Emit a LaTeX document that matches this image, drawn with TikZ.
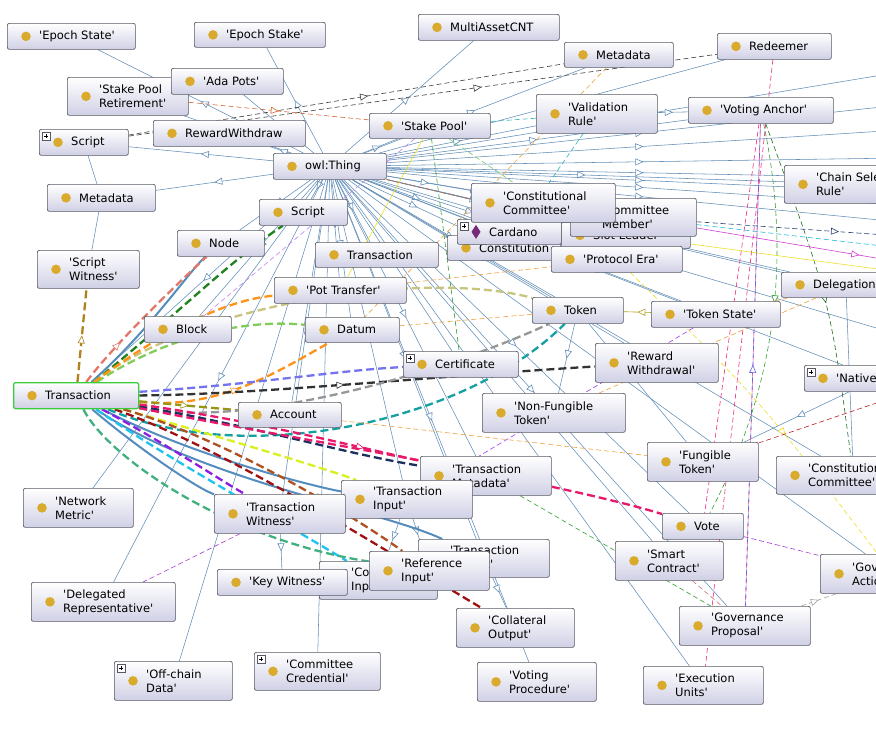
\documentclass[tikz,border=0pt]{standalone}
\usepackage{fontspec}
\setmainfont{DejaVu Sans}
\usetikzlibrary{arrows.meta,decorations.markings}

\definecolor{boxline}{RGB}{88,88,100}
\definecolor{boxbot}{RGB}{208,208,230}
\definecolor{dotgold}{RGB}{218,170,45}
\definecolor{txgreen}{RGB}{60,205,60}
\definecolor{plum}{RGB}{120,40,120}
\definecolor{lineblue}{RGB}{98,142,184}
% thick link colours
\definecolor{goldbrown}{RGB}{176,130,30}
\definecolor{tkblue}{RGB}{85,140,190}
\definecolor{dkgreenfat}{RGB}{30,130,30}
\definecolor{salmonfat}{RGB}{225,120,105}
\definecolor{khakifat}{RGB}{200,195,125}
\definecolor{lgreenfat}{RGB}{130,205,90}
\definecolor{orangefat}{RGB}{255,145,20}
\definecolor{olivefat}{RGB}{150,150,20}
\definecolor{bvfat}{RGB}{115,115,240}
\definecolor{darkfat}{RGB}{50,50,50}
\definecolor{greyfat}{RGB}{150,150,150}
\definecolor{tealfat}{RGB}{20,160,160}
\definecolor{crimsonfat}{RGB}{232,24,106}
\definecolor{navyfat}{RGB}{28,48,96}
\definecolor{limefat}{RGB}{215,240,30}
\definecolor{cyanfat}{RGB}{30,195,240}
\definecolor{purplefat}{RGB}{140,30,225}
\definecolor{dredfat}{RGB}{160,16,16}
\definecolor{brownfat}{RGB}{176,80,32}
\definecolor{mintfat}{RGB}{64,176,128}
% thin link colours
\definecolor{darkdash}{RGB}{60,60,60}
\definecolor{rustdash}{RGB}{210,100,50}
\definecolor{tealthin}{RGB}{40,180,180}
\definecolor{orangethin}{RGB}{240,160,60}
\definecolor{yellowthin}{RGB}{235,225,40}
\definecolor{greenthin}{RGB}{50,160,50}
\definecolor{lgreenthin}{RGB}{110,200,110}
\definecolor{lilac}{RGB}{190,130,240}
\definecolor{pinkthin}{RGB}{240,40,130}
\definecolor{bluevio}{RGB}{100,100,230}
\definecolor{dkgreenthin}{RGB}{30,110,30}
\definecolor{dredthin}{RGB}{190,30,30}
\definecolor{purplethin}{RGB}{160,60,210}
\definecolor{greythin}{RGB}{160,160,160}
\definecolor{violetthin}{RGB}{160,60,240}
\definecolor{cyanthin}{RGB}{30,190,220}
\definecolor{magthin}{RGB}{210,60,210}
\definecolor{navythin}{RGB}{40,60,110}
\definecolor{olivethin}{RGB}{176,160,32}
\definecolor{rosythin}{RGB}{200,110,110}

\pgfdeclarelayer{bg}
\pgfdeclarelayer{edges}
\pgfsetlayers{bg,edges,main}

\newcommand{\q}{\textquotesingle}
% class box: [options]{name}{x1}{y1}{x2}{y2}{text}
\newcommand{\cls}[7][]{%
  \node[clsbox,#1,minimum width={(#5-#3)*1pt},minimum height={(#6-#4)*1pt}] (#2) at (#3,#4) {};
  \fill[dotgold] ([xshift=19pt]#2.west) circle (4.8pt);
  \node[clstext] at ([xshift=32pt]#2.west) {#7};}
\newcommand{\plusmark}[1]{%
  \draw[boxline,fill=white,line width=0.4pt] ([shift={(3,3)}]#1.north west) rectangle +(8,8);
  \draw[line width=0.6pt] ([shift={(5,7)}]#1.north west) -- +(4,0) ([shift={(7,5)}]#1.north west) -- +(0,4);}

\begin{document}
\begin{tikzpicture}[x=1pt, y=-1pt,
    clsbox/.style={rectangle, anchor=north west, rounded corners=2pt, draw=boxline, line width=0.7pt,
      top color=white, bottom color=boxbot, inner sep=0pt},
    clstext/.style={anchor=west, align=left, inner sep=0pt, font=\fontsize{11.5}{14}\selectfont},
    midarrow/.style={postaction={decorate, decoration={markings,
      mark=at position #1 with {\arrow{Triangle[fill=white, length=8pt, width=7pt, line width=0.6pt]}}}}},
    midarrow/.default=0.5,
    isa/.style={draw=lineblue, line width=0.55pt, midarrow},
    plainblue/.style={draw=lineblue, line width=0.55pt},
    fat/.style={line width=2.3pt, dash pattern=on 8pt off 4pt},
    fatsolid/.style={line width=2pt, draw=tkblue},
    dsh/.style={line width=0.6pt, dash pattern=on 5pt off 3pt}
  ]
  \useasboundingbox (0,0) rectangle (876,729);
  \begin{pgfonlayer}{bg}
    \fill[white] (0,0) rectangle (876,729);
  \end{pgfonlayer}

  % Classes
  \cls{epochstate}{7}{23}{135}{49}{\q Epoch State\q}
  \cls{epochstake}{194}{22}{325}{47}{\q Epoch Stake\q}
  \cls{multiasset}{418}{14}{559}{40}{MultiAssetCNT}
  \cls{metaR}{564}{42}{673}{67}{Metadata}
  \cls{redeemer}{717}{33}{831}{59}{Redeemer}
  \cls{spretire}{67}{77}{188}{115}{\q Stake Pool\\Retirement\q}
  \cls{adapots}{171}{68}{283}{94}{\q Ada Pots\q}
  \cls{scriptL}{39}{129}{128}{155}{Script}
  \plusmark{scriptL}
  \cls{rewardw}{153}{120}{305}{146}{RewardWithdraw}
  \cls{stakepool}{369}{113}{490}{138}{\q Stake Pool\q}
  \cls{valrule}{536}{94}{657}{133}{\q Validation\\Rule\q}
  \cls{votanchor}{688}{97}{833}{123}{\q Voting Anchor\q}
  \cls{thing}{273}{153}{386}{179}{owl:Thing}
  \cls{chainsel}{784}{165}{935}{203}{\q Chain Selection\\Rule\q}
  \cls{metaL}{47}{184}{155}{211}{Metadata}
  \cls{scriptM}{259}{199}{347}{225}{Script}
  \cls{nodeN}{177}{230}{264}{256}{Node}
  \cls{slotleader}{561}{222}{690}{248}{Slot Leader}
  \cls{cmember}{570}{198}{696}{236}{\q Committee\\Member\q}
  \cls{constitution}{447}{235}{560}{260}{Constitution}
  \node[clsbox, minimum width=104pt, minimum height=25pt] (cardano) at (457,219) {};
  \fill[plum] ([xshift=19pt,yshift=7pt]cardano.west) -- ++(4.5,7) -- ++(-4.5,7) -- ++(-4.5,-7) -- cycle;
  \node[clstext] at ([xshift=32pt]cardano.west) {Cardano};
  \plusmark{cardano}
  \cls{constcomm}{471}{183}{615}{222}{\q Constitutional\\Committee\q}
  \cls{protoera}{551}{246}{682}{272}{\q Protocol Era\q}
  \cls{txM}{315}{242}{438}{267}{Transaction}
  \cls{scriptwit}{37}{250}{139}{288}{\q Script\\Witness\q}
  \cls{delegation}{781}{272}{910}{297}{Delegation}
  \cls{pottransfer}{274}{277}{406}{303}{\q Pot Transfer\q}
  \cls{token}{532}{297}{623}{323}{Token}
  \cls{tokenstate}{651}{301}{780}{327}{\q Token State\q}
  \cls{block}{144}{316}{231}{342}{Block}
  \cls{datum}{305}{317}{399}{342}{Datum}
  \cls{certificate}{403}{351}{518}{377}{Certificate}
  \plusmark{certificate}
  \cls{rewardwl}{595}{343}{718}{382}{\q Reward\\Withdrawal\q}
  \cls{native}{804}{365}{950}{391}{\q Native Token\q}
  \plusmark{native}
  \cls[draw=txgreen, line width=1.3pt]{tx}{13}{382}{138}{408}{Transaction}
  \cls{account}{238}{402}{341}{427}{Account}
  \cls{nft}{482}{393}{625}{432}{\q Non-Fungible\\Token\q}
  \cls{fungible}{647}{442}{758}{481}{\q Fungible\\Token\q}
  \cls{constcommR}{776}{456}{930}{494}{\q Constitutional\\Committee\q}
  \cls{txmeta}{420}{456}{551}{495}{\q Transaction\\Metadata\q}
  \cls{netmetric}{23}{488}{133}{527}{\q Network\\Metric\q}
  \cls{txinput}{341}{480}{472}{518}{\q Transaction\\Input\q}
  \cls{txwit}{214}{494}{345}{533}{\q Transaction\\Witness\q}
  \cls{vote}{662}{513}{743}{539}{Vote}
  \cls{smartc}{615}{541}{723}{580}{\q Smart\\Contract\q}
  \cls{govaction}{820}{554}{965}{593}{\q Governance\\Action\q}
  \cls{collinput}{319}{561}{437}{599}{\q Collateral\\Input\q}
  \cls{keywit}{217}{569}{347}{595}{\q Key Witness\q}
  \cls{txoutput}{418}{539}{549}{577}{\q Transaction\\Output\q}
  \cls{refinput}{369}{551}{489}{590}{\q Reference\\Input\q}
  \cls{deleg}{31}{582}{175}{621}{\q Delegated\\Representative\q}
  \cls{colloutput}{456}{608}{574}{647}{\q Collateral\\Output\q}
  \cls{govprop}{679}{606}{810}{645}{\q Governance\\Proposal\q}
  \cls{offchain}{114}{661}{232}{700}{\q Off-chain\\Data\q}
  \plusmark{offchain}
  \cls{ccred}{254}{652}{380}{690}{\q Committee\\Credential\q}
  \plusmark{ccred}
  \cls{votproc}{477}{662}{596}{701}{\q Voting\\Procedure\q}
  \cls{execunits}{643}{666}{763}{704}{\q Execution\\Units\q}

  % free ends beyond the right border
  \coordinate (offA) at (900,72);
  \coordinate (offB) at (900,130);
  \coordinate (offC) at (900,158);
  \coordinate (offD) at (900,178);
  \coordinate (offE) at (900,205);
  \coordinate (offF) at (900,222);
  \coordinate (offG) at (900,300);
  \coordinate (offH) at (900,335);
  \coordinate (offI) at (900,395);
  \coordinate (offJ) at (900,248);
  \coordinate (offK) at (900,262);
  \coordinate (offL) at (900,272);
  \coordinate (offM) at (900,236);
  \coordinate (offN) at (900,105);
  \coordinate (offO) at (900,192);

  \begin{pgfonlayer}{edges}
    % is-a links
    \foreach \c in {epochstate,epochstake,adapots,spretire,scriptL,metaL,rewardw,scriptM,nodeN,
        multiasset,stakepool,metaR,redeemer,valrule,votanchor,chainsel,cmember,constcomm,cardano,
        constitution,slotleader,protoera,txM,pottransfer,block,datum,token,tokenstate,delegation,
        certificate,rewardwl,native,tx,account,txmeta,netmetric,txinput,txwit,vote,txoutput,smartc,
        govaction,deleg,govprop,offchain,ccred,votproc,execunits,constcommR,
        offA,offB,offC,offD,offE,offF,offG,offH,offN,offO}
      \draw[isa] (thing) -- (\c);
    \draw[isa] (token) -- (nft);
    \draw[isa] (token) -- (fungible);
    \draw[isa] (native) -- (fungible);
    \draw[isa] (txwit) -- (keywit);
    \draw[isa] (txinput) -- (collinput);
    \draw[isa] (txinput) -- (refinput);
    \draw[isa] (txoutput) -- (colloutput);
    \draw[isa] (valrule) -- (votanchor);
    \draw[isa] (delegation) -- (constcommR);
    \draw[plainblue] (scriptL) -- (metaL) -- (scriptwit);

    % Transaction links
    \draw[fat, draw=goldbrown, midarrow] (tx) -- (scriptwit);
    \draw[fatsolid] (tx) .. controls (150,330) and (190,270) .. (nodeN);
    \draw[fat, draw=salmonfat, midarrow=0.3] (tx) .. controls (110,350) and (160,300) .. (nodeN);
    \draw[fat, draw=dkgreenfat, midarrow=0.35] (tx) .. controls (160,330) and (230,260) .. (scriptM);
    \draw[fat, draw=khakifat] (tx) .. controls (200,300) and (430,270) .. (token);
    \draw[fat, draw=lgreenfat] (tx) .. controls (160,340) and (240,318) .. (datum);
    \draw[fat, draw=orangefat] (tx) .. controls (150,340) and (220,300) .. (pottransfer);
    \draw[fat, draw=orangefat, midarrow] (tx) .. controls (220,410) and (280,370) .. (datum);
    \draw[fat, draw=olivefat, midarrow] (tx) -- (account);
    \draw[fat, draw=bvfat] (tx) .. controls (250,385) and (340,370) .. (certificate);
    \draw[fat, draw=darkfat, midarrow=0.45] (tx) .. controls (250,395) and (450,375) .. (rewardwl);
    \draw[fat, draw=greyfat, midarrow=0.75] (tx) .. controls (250,430) and (450,370) .. (token);
    \draw[fat, draw=tealfat] (tx) .. controls (250,470) and (470,420) .. (token);
    \draw[fat, draw=navyfat] (tx) .. controls (250,425) and (350,455) .. (txmeta);
    \draw[fat, draw=crimsonfat, midarrow=0.8] (tx) .. controls (250,420) and (350,445) .. (txmeta);
    \draw[fat, draw=crimsonfat] (tx) .. controls (300,440) and (550,480) .. (vote);
    \draw[fat, draw=limefat] (tx) .. controls (230,440) and (330,470) .. (txinput);
    \draw[fatsolid] (tx) .. controls (200,460) and (330,490) .. (txinput);
    \draw[fatsolid] (tx) .. controls (200,480) and (380,510) .. (txoutput);
    \draw[fatsolid] (tx) .. controls (140,450) and (200,490) .. (txwit);
    \draw[fat, draw=purplefat] (tx) .. controls (160,440) and (220,480) .. (txwit);
    \draw[fat, draw=cyanfat] (tx) .. controls (170,460) and (280,520) .. (collinput);
    \draw[fat, draw=dredfat] (tx) .. controls (230,450) and (400,560) .. (colloutput);
    \draw[fat, draw=brownfat, midarrow=0.7] (tx) .. controls (230,440) and (360,520) .. (refinput);
    \draw[fat, draw=mintfat] (tx) .. controls (110,460) and (230,540) .. (refinput);

    % other links
    \draw[dsh, draw=darkdash, midarrow=0.55] (scriptL) -- (metaR);
    \draw[dsh, draw=darkdash, midarrow=0.6] (scriptL) -- (redeemer);
    \draw[dsh, draw=rustdash, midarrow] (spretire) -- (stakepool);
    \draw[dsh, draw=rustdash] (thing) -- (slotleader);
    \draw[dsh, draw=tealthin] (stakepool) -- (valrule);
    \draw[dsh, draw=tealthin] (valrule) -- (constitution);
    \draw[dsh, draw=orangethin] (metaR) -- (datum);
    \draw[draw=yellowthin, line width=0.6pt] (stakepool) -- (pottransfer);
    \draw[dsh, draw=greenthin] (stakepool) -- (certificate);
    \draw[dsh, draw=lgreenthin] (stakepool) -- (constcomm);
    \draw[dsh, draw=lilac] (stakepool) -- (block);
    \draw[dsh, draw=pinkthin] (redeemer) -- (execunits);
    \draw[dsh, draw=pinkthin, midarrow] (votanchor) -- (vote);
    \draw[dsh, draw=pinkthin] (votanchor) -- (govprop);
    \draw[dsh, draw=bluevio, midarrow] (govprop) -- (votanchor);
    \draw[dsh, draw=dkgreenthin, midarrow=0.55] (votanchor) .. controls (830,300) .. (constcommR);
    \draw[dsh, draw=greenthin, midarrow=0.45] (votanchor) .. controls (790,250) and (780,380) .. (vote);
    \draw[dsh, draw=yellowthin, midarrow=0.6] (protoera) .. controls (760,400) .. (govaction);
    \draw[dsh, draw=dredthin] (fungible) -- (offI);
    \draw[dsh, draw=purplethin] (vote) -- (govaction);
    \draw[dsh, draw=greythin, midarrow] (govprop) -- (govaction);
    \draw[dsh, draw=purplethin] (txwit) -- (deleg);
    \draw[dsh, draw=violetthin, midarrow=0.2] (tokenstate) -- (txinput);
    \draw[dsh, draw=cyanthin] (cmember) -- (offJ);
    \draw[draw=magthin, line width=0.6pt, midarrow=0.8] (cmember) -- (offK);
    \draw[draw=yellowthin, line width=0.6pt] (slotleader) -- (offL);
    \draw[dsh, draw=navythin, midarrow=0.7] (cmember) -- (offM);
    \draw[dsh, draw=orangethin] (datum) -- (token);
    \draw[dsh, draw=orangethin] (nft) -- (delegation);
    \draw[dsh, draw=orangethin] (account) -- (fungible);
    \draw[dsh, draw=orangethin] (pottransfer) -- (protoera);
    \draw[dsh, draw=orangethin] (tokenstate) -- (delegation);
    \draw[dsh, draw=greenthin, midarrow=0.75] (txmeta) -- (govprop);
    \draw[dsh, draw=rosythin] (smartc) -- (govprop);
    \draw[draw=olivethin, line width=0.6pt, midarrow] (tokenstate) -- (token);
  \end{pgfonlayer}
\end{tikzpicture}
\end{document}
